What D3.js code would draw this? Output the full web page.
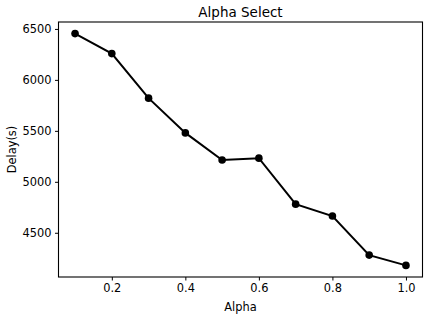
<!DOCTYPE html>
<html><head><meta charset="utf-8">
<script src="https://cdn.jsdelivr.net/npm/d3@7"></script>
<style>body{margin:0;background:#fff;} svg{display:block;} text{font-family:"DejaVu Sans",sans-serif;fill:#000;}</style>
</head><body>
<svg id="c" width="425" height="315"></svg>
<script>
const alphas = [0.1,0.2,0.3,0.4,0.5,0.6,0.7,0.8,0.9,1.0];
const delays = [6454,6258,5821,5480,5214,5232,4781,4664,4281,4180];
const xTicks = [0.2,0.4,0.6,0.8,1.0];
const yTicks = [4500,5000,5500,6000,6500];

const svg = d3.select("#c");
const L=58.5, R=422.5, T=22, B=277;
const x = d3.scaleLinear().domain([0.055,1.045]).range([L,R]);
const y = d3.scaleLinear().domain([4066,6568]).range([B,T]);

svg.append("rect").attr("x",L).attr("y",T).attr("width",R-L).attr("height",B-T)
  .attr("fill","none").attr("stroke","#000").attr("stroke-width",1.1);

const xa = svg.append("g").attr("transform",`translate(0,${B})`)
  .call(d3.axisBottom(x).tickValues(xTicks).tickFormat(d3.format(".1f")).tickSizeOuter(0).tickSize(3.5).tickPadding(3.5));
const ya = svg.append("g").attr("transform",`translate(${L},0)`)
  .call(d3.axisLeft(y).tickValues(yTicks).tickFormat(d3.format("d")).tickSizeOuter(0).tickSize(3.5).tickPadding(3.5));
[xa,ya].forEach(g=>{g.select(".domain").remove();
  g.selectAll("text").style("font-size","11.4px").style("font-family","DejaVu Sans");
  g.selectAll("line").attr("stroke","#000");});

svg.append("path").datum(alphas.map((a,i)=>[a,delays[i]]))
  .attr("d",d3.line().x(d=>x(d[0])).y(d=>y(d[1])))
  .attr("fill","none").attr("stroke","#000").attr("stroke-width",2);
svg.selectAll("circle.p").data(alphas).join("circle")
  .attr("cx",(d)=>x(d)).attr("cy",(d,i)=>y(delays[i])).attr("r",3.8).attr("fill","#000");

svg.append("text").attr("x",(L+R)/2).attr("y",17).attr("text-anchor","middle").style("font-size","13.5px").text("Alpha Select");
svg.append("text").attr("x",(L+R)/2).attr("y",311).attr("text-anchor","middle").style("font-size","11.4px").text("Alpha");
svg.append("text").attr("transform",`translate(16,${(T+B)/2}) rotate(-90)`).attr("text-anchor","middle").style("font-size","11.4px").text("Delay(s)");
</script>
</body></html>
